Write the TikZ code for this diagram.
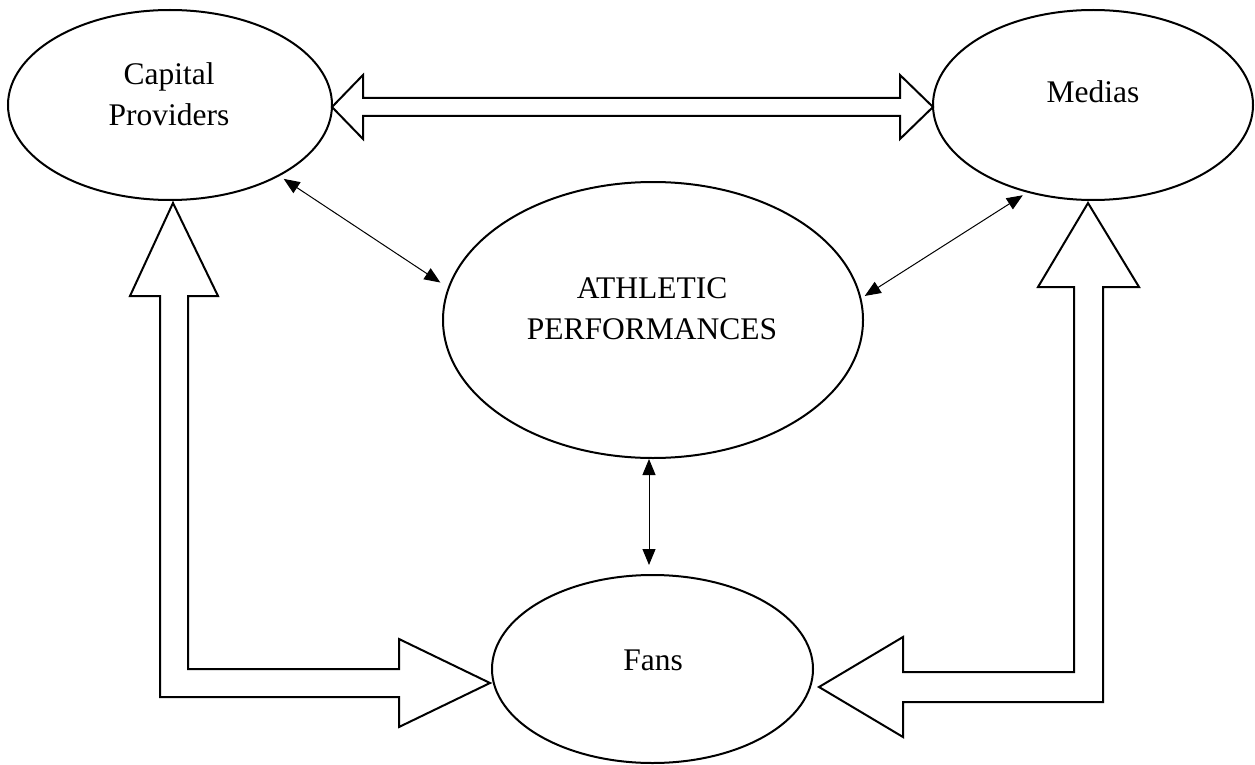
\documentclass[tikz,border=0pt]{standalone}
\usepackage{fontspec}
\setmainfont{Liberation Serif}
\usetikzlibrary{arrows.meta,shapes.geometric}
\tikzset{
  ell/.style={ellipse, draw=black, line width=2pt, inner sep=0pt},
  lbl/.style={font=\fontsize{31.5}{41}\selectfont, inner sep=0pt, align=center},
  blockarrow/.style={draw=black, fill=white, line width=2pt, line join=miter},
  thinarrow/.style={line width=1pt, {Triangle[length=16pt,width=13pt]}-{Triangle[length=16pt,width=13pt]}}
}
\begin{document}
\begin{tikzpicture}[x=1pt,y=-1pt]
\useasboundingbox (0,0) rectangle (1255,765);
% ellipses
\node[ell, minimum width=324pt, minimum height=190pt] (cap) at (170,105) {};
\node[ell, minimum width=320pt, minimum height=190pt] (med) at (1093,105) {};
\node[ell, minimum width=420pt, minimum height=276pt] (ath) at (653,320) {};
\node[ell, minimum width=321pt, minimum height=188pt] (fans) at (652.5,669) {};
% texts
\node[lbl] (capt) at (169,94) {Capital\\Providers};
\node[lbl, anchor=base] (medt) at (1093,103) {Medias};
\node[lbl] (atht) at (652,308.5) {ATHLETIC\\PERFORMANCES};
\node[lbl, anchor=base] (fanst) at (653,670) {Fans};
% block arrows
\draw[blockarrow] (332,107) -- (363,75) -- (363,98) -- (900,98) -- (900,75) -- (933,107)
  -- (900,139) -- (900,116) -- (363,116) -- (363,139) -- cycle;
\draw[blockarrow] (173,203) -- (218,296) -- (188,296) -- (188,669) -- (399,669) -- (399,639)
  -- (490,683) -- (399,727) -- (399,697) -- (160,697) -- (160,296) -- (130,296) -- cycle;
\draw[blockarrow] (1088,203) -- (1139,287) -- (1103,287) -- (1103,702) -- (903,702) -- (903,737)
  -- (819,687) -- (903,637) -- (903,672) -- (1074,672) -- (1074,287) -- (1038,287) -- cycle;
% thin double arrows
\draw[thinarrow, shorten <=5pt, shorten >=9pt] (cap.-33.5) -- (ath.171.2);
\draw[thinarrow, shorten <=5pt, shorten >=4pt] (med.233.5) -- (ath.6.2);
\draw[thinarrow, shorten >=9pt] ([xshift=-4pt]ath.south) -- ([xshift=-3.5pt]fans.north);
\end{tikzpicture}
\end{document}
